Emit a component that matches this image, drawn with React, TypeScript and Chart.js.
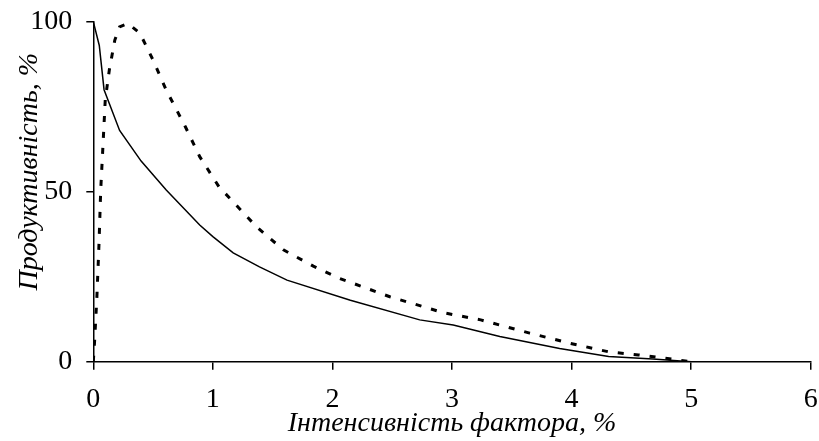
import React, { useEffect, useRef } from "react";
import { Chart, registerables } from "chart.js";

Chart.register(...registerables);

// Solid curve
const solidX = [0, 0.05, 0.09, 0.22, 0.4, 0.61, 0.89, 1.0, 1.17, 1.39, 1.62, 2.15, 2.73, 3.01, 3.4, 3.9, 4.31, 4.68, 5.0];
const solidY = [100, 93, 80, 68, 59, 50.5, 40.2, 36.8, 32, 27.9, 24, 18.1, 12.3, 10.8, 7.4, 3.9, 1.5, 0.8, 0];

// Dashed curve
const dashX = [0, 0.01, 0.03, 0.048, 0.062, 0.079, 0.1, 0.134, 0.18, 0.22, 0.29, 0.39, 0.5, 0.61, 0.77, 0.89, 1.05, 1.37, 1.59, 1.84, 2.06, 2.48, 2.93, 3.24, 3.65, 3.99, 4.31, 4.56, 4.85, 5.0];
const dashY = [0, 5.5, 19, 35, 50.5, 62.3, 77, 85.8, 94.6, 98.5, 99.5, 96.6, 88.7, 79.9, 69.1, 60.3, 51.5, 39.5, 32.9, 28.1, 24.5, 19.1, 14.4, 12.3, 8.4, 5.4, 2.9, 2.0, 0.7, 0];

const xTicks = [0, 1, 2, 3, 4, 5, 6];
const yTicks = [0, 50, 100];

const xTitle = "Інтенсивність фактора, %";
const yTitle = "Продуктивність, %";

const FAMILY = "'Liberation Serif', Tinos, 'Times New Roman', serif";

const yTitlePlugin = {
  id: "yTitlePlugin",
  afterDraw(chart: any) {
    const { ctx, chartArea } = chart;
    ctx.save();
    ctx.translate(30, (chartArea.top + chartArea.bottom) / 2 - 20);
    ctx.rotate(-Math.PI / 2);
    ctx.font = `italic 28px ${FAMILY}`;
    ctx.fillStyle = "#000";
    ctx.textAlign = "center";
    ctx.textBaseline = "middle";
    ctx.fillText(yTitle, 0, 0);
    ctx.restore();
  },
};

export default function App() {
  const ref = useRef<HTMLCanvasElement | null>(null);

  useEffect(() => {
    if (!ref.current) return;
    const toPts = (xs: number[], ys: number[]) => xs.map((x, i) => ({ x, y: ys[i] }));
    const zeroPad = (s: any) => {
      s.paddingLeft = 0;
      s.paddingRight = 0;
      s.paddingTop = 0;
      s.paddingBottom = 0;
    };
    const chart = new Chart(ref.current, {
      type: "line",
      data: {
        datasets: [
          {
            data: toPts(solidX, solidY),
            borderColor: "#000",
            borderWidth: 1.5,
            pointRadius: 0,
            tension: 0,
            fill: false,
          },
          {
            data: toPts(dashX, dashY),
            borderColor: "#000",
            borderWidth: 3,
            borderDash: [6, 10],
            borderCapStyle: "butt",
            pointRadius: 0,
            tension: 0,
            fill: false,
          },
        ],
      },
      plugins: [yTitlePlugin],
      options: {
        animation: false,
        responsive: true,
        maintainAspectRatio: false,
        layout: { padding: { top: 21.7, right: 8.3, left: 0, bottom: 0 } },
        plugins: { legend: { display: false }, tooltip: { enabled: false } },
        scales: {
          x: {
            type: "linear",
            min: 0,
            max: 6,
            afterBuildTicks: (s: any) => {
              s.ticks = xTicks.map((v) => ({ value: v }));
            },
            afterFit: (s: any) => {
              s.height = 79.3;
              zeroPad(s);
            },
            ticks: {
              color: "#000",
              font: { family: FAMILY, size: 28 },
              padding: 13,
              maxRotation: 0,
              autoSkip: false,
            },
            grid: {
              drawOnChartArea: false,
              drawTicks: true,
              tickLength: 8,
              color: "#000",
              lineWidth: 1.5,
            },
            border: { display: true, color: "#000", width: 1.5 },
            title: {
              display: true,
              text: xTitle,
              color: "#000",
              font: { family: FAMILY, size: 28, style: "italic" },
              padding: { top: 0, bottom: 1 },
            },
          },
          y: {
            type: "linear",
            min: 0,
            max: 100,
            afterBuildTicks: (s: any) => {
              s.ticks = yTicks.map((v) => ({ value: v }));
            },
            afterFit: (s: any) => {
              s.width = 93.3;
              zeroPad(s);
            },
            ticks: {
              color: "#000",
              font: { family: FAMILY, size: 28 },
              padding: 14,
              autoSkip: false,
            },
            grid: {
              drawOnChartArea: false,
              drawTicks: true,
              tickLength: 7,
              color: "#000",
              lineWidth: 1.5,
            },
            border: { display: true, color: "#000", width: 1.5 },
            title: { display: false },
          },
        },
      },
    });
    return () => chart.destroy();
  }, []);

  return (
    <div style={{ position: "fixed", left: 0, top: 0, width: 819, height: 441, background: "#fff" }}>
      <canvas ref={ref} />
    </div>
  );
}
